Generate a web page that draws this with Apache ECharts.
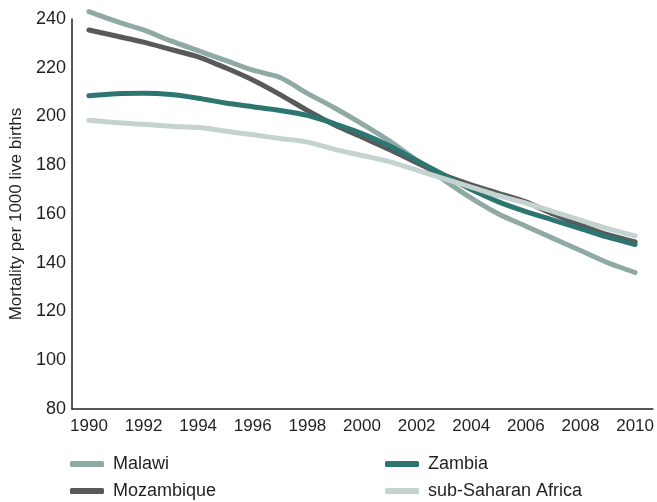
<!DOCTYPE html>
<html>
<head>
<meta charset="utf-8">
<script src="https://cdn.jsdelivr.net/npm/echarts@6/dist/echarts.min.js"></script>
<style>html,body{margin:0;padding:0;background:#fff;}#c{width:657px;height:502px;}</style>
</head>
<body>
<div id="c"></div>
<script>
var years = [1990,1991,1992,1993,1994,1995,1996,1997,1998,1999,2000,2001,2002,2003,2004,2005,2006,2007,2008,2009,2010];
var xTickLabels = [1990,1992,1994,1996,1998,2000,2002,2004,2006,2008,2010];
var malawi = [243,239,235.5,231,227,223,219,216,209.5,203.5,197,190,182,174,166.5,160,155,150,145,140,136];
var mozambique = [235.5,233,230.5,227.5,224.5,220,215,209,202.5,196.5,191.5,186.5,181,176,172,168.5,165,160,155.5,151.5,148.5];
var zambia = [208.5,209.3,209.5,209,207.5,205.5,204,202.5,200.5,197,193,188,182,176,170,165,161,157.5,154,150.5,147.5];
var ssa = [198.5,197.5,196.8,196,195.5,194,192.5,191,189.5,186.5,184,181.5,178,174.5,171,167.5,164.5,161,157.5,154,151];

function pairs(v){ return years.map(function(y,i){ return [y, v[i]]; }); }
var FONT = '"Liberation Sans", Arial, Helvetica, sans-serif';
var chart = echarts.init(document.getElementById('c'));
function ser(name, data, color){
  return {name:name, type:'line', data:pairs(data), smooth:0.25, symbol:'none', clip:false,
    lineStyle:{width:5, color:color, cap:'round', join:'round'}, itemStyle:{color:color}};
}
function leg(name, left, top){
  return {orient:'horizontal', left:left, top:top, padding:0, data:[name],
    itemWidth:34, itemHeight:6, icon:'roundRect',
    textStyle:{fontFamily:FONT, fontSize:18, color:'#231f20', lineHeight:18, padding:[0,0,0,4]}};
}
chart.setOption({
  animation:false,
  grid:{left:72, right:0, top:19, bottom:93},
  legend:[
    leg('Malawi', 70, 455),
    leg('Mozambique', 70, 482),
    leg('Zambia', 385, 455),
    leg('sub-Saharan Africa', 385, 482)
  ],
  xAxis:{type:'value', min:1989.38, max:2010.65,
    axisLine:{show:true, lineStyle:{color:'#231f20', width:1.5}},
    axisTick:{show:false}, splitLine:{show:false},
    axisLabel:{customValues:xTickLabels, fontFamily:FONT, fontSize:17, color:'#231f20', margin:9,
      formatter:function(v){return String(v);}}
  },
  yAxis:{type:'value', min:80, max:240, interval:20,
    name:'Mortality per 1000 live births', nameLocation:'middle', nameGap:47,
    nameTextStyle:{fontFamily:FONT, fontSize:17, color:'#231f20'},
    axisLine:{show:true, lineStyle:{color:'#231f20', width:1.5}},
    axisTick:{show:false}, splitLine:{show:false},
    axisLabel:{fontFamily:FONT, fontSize:18, color:'#231f20', margin:6}
  },
  series:[
    ser('Malawi', malawi, '#8fa9a5'),
    ser('Mozambique', mozambique, '#58595b'),
    ser('Zambia', zambia, '#2c7570'),
    ser('sub-Saharan Africa', ssa, '#c4d2d0')
  ]
});
</script>
</body>
</html>
